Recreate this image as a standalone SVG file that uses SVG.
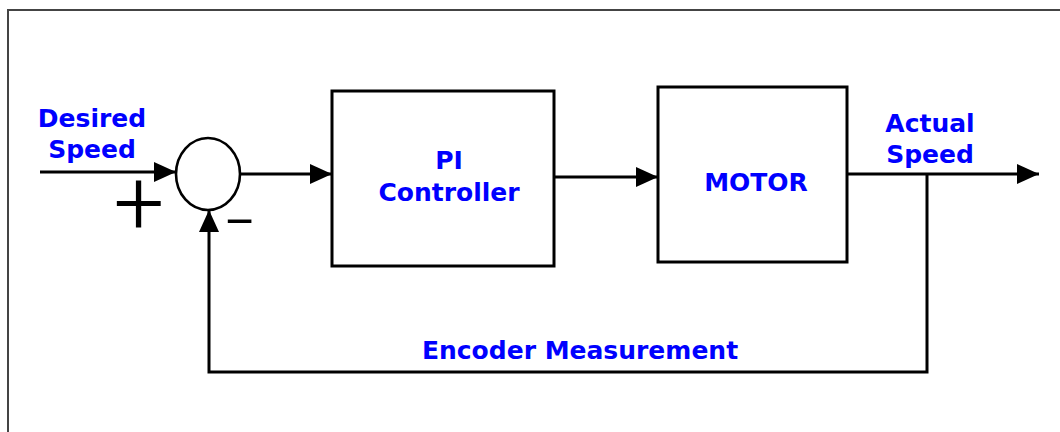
<svg xmlns="http://www.w3.org/2000/svg" width="1060" height="432" viewBox="0 0 1060 432">
<style>
.lbl{font-family:"DejaVu Sans","Liberation Sans",sans-serif;font-weight:bold;font-size:25px;fill:#0000ff;text-anchor:middle}
.box{fill:#fff;stroke:#000;stroke-width:3}
.wire{fill:none;stroke:#000;stroke-width:3}
.sign{font-family:"Liberation Sans",Arial,sans-serif;fill:#000;text-anchor:middle}
</style>
<defs>
<marker id="arr" markerUnits="userSpaceOnUse" markerWidth="24" markerHeight="22" refX="22" refY="10" orient="auto">
<path d="M0,0 L22,10 L0,20 z" fill="#000"/>
</marker>
</defs>
<rect x="0" y="0" width="1060" height="432" fill="#fff"/>
<path d="M8,440 V10 H1070" fill="none" stroke="#444" stroke-width="2"/>
<g id="connectors">
<path class="wire" d="M40,172 H176" marker-end="url(#arr)"/>
<path class="wire" d="M240,174 H332" marker-end="url(#arr)"/>
<path class="wire" d="M554,177 H658" marker-end="url(#arr)"/>
<path class="wire" d="M847,174 H1039" marker-end="url(#arr)"/>
<path class="wire" d="M927,174 V372 H209 V210" marker-end="url(#arr)"/>
</g>
<g id="sum">
<ellipse cx="208" cy="174" rx="32" ry="36" fill="#fff" stroke="#000" stroke-width="2.6"/>
</g>
<g id="plus">
<text class="sign" x="139" y="234" font-size="90" style="font-family:Roboto,'Liberation Sans',sans-serif;font-weight:300">+</text>
</g>
<g id="minus">
<text class="sign" transform="translate(239.5,233) scale(2.2,1)" x="0" y="0" font-size="44">-</text>
</g>
<g id="pi">
<rect class="box" x="332" y="91" width="222" height="175"/>
<text class="lbl" x="449" y="169">PI</text>
<text class="lbl" x="449" y="201">Controller</text>
</g>
<g id="motor">
<rect class="box" x="658" y="87" width="189" height="175"/>
<text class="lbl" x="756" y="191">MOTOR</text>
</g>
<g id="desired">
<text class="lbl" x="92" y="127">Desired</text>
<text class="lbl" x="92" y="158">Speed</text>
</g>
<g id="actual">
<text class="lbl" x="930" y="132">Actual</text>
<text class="lbl" x="930" y="163">Speed</text>
</g>
<g id="encoder">
<text class="lbl" x="580" y="359">Encoder Measurement</text>
</g>
</svg>
